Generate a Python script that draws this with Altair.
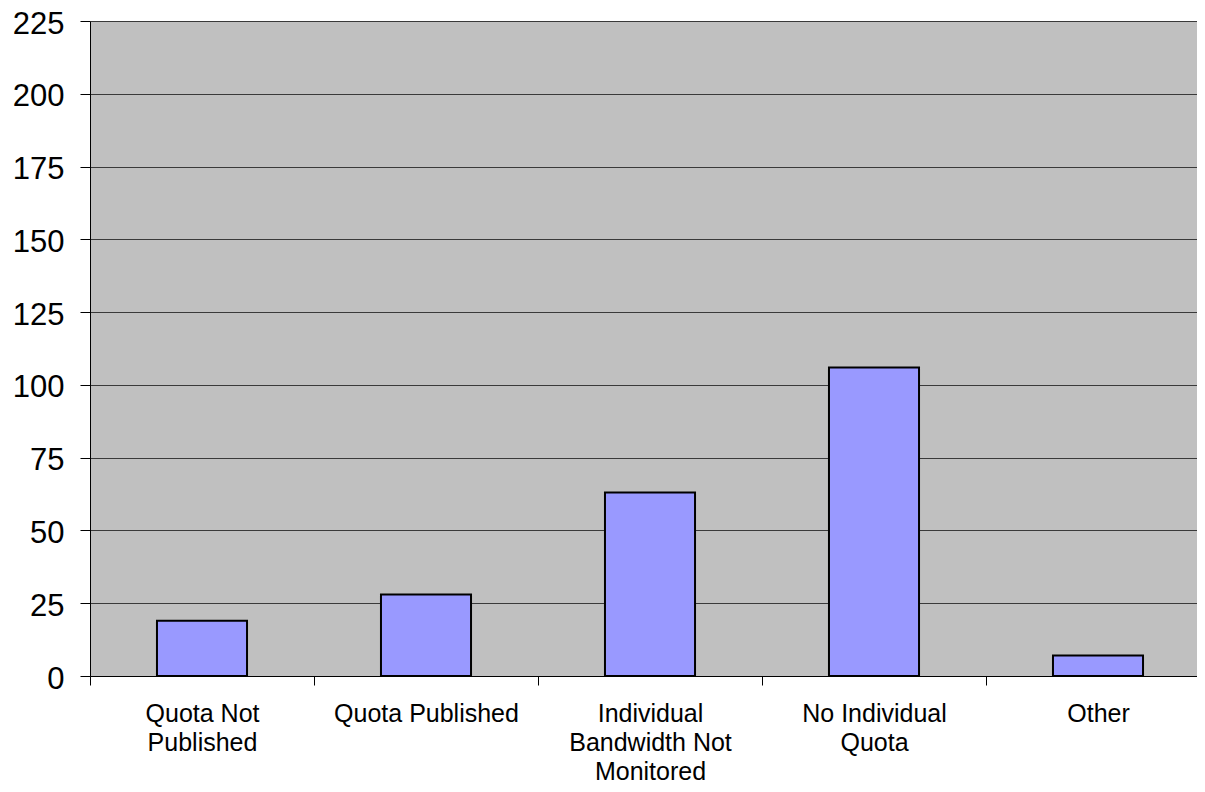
import altair as alt
import pandas as pd

categories = [
    "Quota Not|Published",
    "Quota Published",
    "Individual|Bandwidth Not|Monitored",
    "No Individual|Quota",
    "Other",
]
values = [19, 28, 63, 106, 7]
y_ticks = [0, 25, 50, 75, 100, 125, 150, 175, 200, 225]

df = pd.DataFrame({"category": categories, "value": values})

chart = (
    alt.Chart(df)
    .mark_bar(
        color="#9999FF",
        stroke="#000000",
        strokeWidth=2,
        width=alt.RelativeBandSize(0.402),
    )
    .encode(
        x=alt.X(
            "category:N",
            sort=categories,
            scale=alt.Scale(range=[0, 1120], paddingInner=0, paddingOuter=0),
            axis=alt.Axis(
                title=None,
                labelAngle=0,
                labelExpr="split(datum.label, '|')",
                labelFont="Liberation Sans",
                labelFontSize=25,
                labelLineHeight=29,
                labelColor="#000000",
                labelPadding=16,
                labelLimit=400,
                tickBand="extent",
                tickSize=9,
                tickColor="#000000",
                domainColor="#000000",
                domainWidth=1,
                grid=False,
            ),
        ),
        y=alt.Y(
            "value:Q",
            scale=alt.Scale(domain=[0, 225], nice=False),
            axis=alt.Axis(
                title=None,
                values=y_ticks,
                labelFont="Liberation Sans",
                labelFontSize=31,
                labelColor="#000000",
                labelPadding=16,
                labelOffset=3,
                tickSize=10,
                tickColor="#000000",
                domainColor="#000000",
                gridColor="#3a3a3a",
                gridWidth=1,
            ),
        ),
    )
    .properties(
        width=1107,
        height=655,
        background="#FFFFFF",
        autosize=alt.AutoSizeParams(type="none"),
        padding={"left": 82, "top": 13, "right": 0, "bottom": 108},
    )
    .configure_view(fill="#C0C0C0", stroke="transparent")
)

chart.save("out.html", embed_options={"renderer": "svg", "actions": False})
